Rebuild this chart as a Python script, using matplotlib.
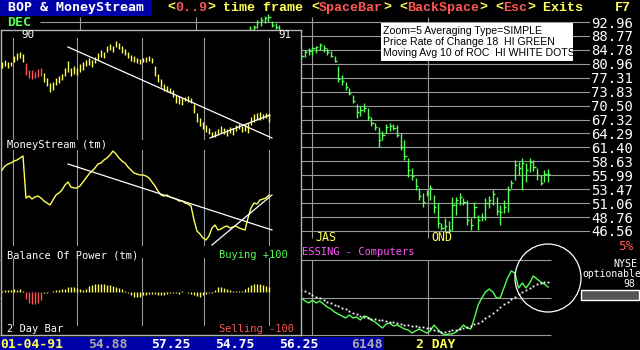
import matplotlib
matplotlib.use('Agg')
import matplotlib.pyplot as plt
import numpy as np
from matplotlib.patches import Rectangle, Ellipse
from matplotlib.ticker import NullLocator

plt.rcParams['font.family'] = ['DejaVu Sans Mono']

# ---- main chart: 2 day bars, May 1990 .. 01-04-91 ----
price_levels = [92.96, 88.77, 84.78, 80.96, 77.31, 73.83, 70.50, 67.32,
                64.29, 61.40, 58.63, 55.99, 53.47, 51.06, 48.76, 46.56]
quarter_bars = [-46.2, -14.6, 16.9, 48.4]     # bar index where a quarter starts
quarter_names = ['', '', 'JAS', 'OND']

bar_hi = [91.7, 92.0, 93.6, 94.5, 94.8, 95.5, 93.3, 92.6, 92.0, 89.9,
          89.0, 88.2, 87.6, 86.2, 84.2, 84.8, 85.3, 85.6, 85.9, 86.7,
          86.2, 85.3, 84.5, 83.1, 80.4, 78.0, 76.2, 74.7, 73.0, 70.9,
          70.4, 71.1, 69.9, 67.9, 66.6, 65.7, 64.8, 66.3, 66.6, 66.3,
          66.1, 64.4, 62.9, 59.3, 57.3, 55.5, 53.7, 52.8, 53.3, 54.2,
          52.5, 51.1, 47.8, 48.6, 48.1, 52.1, 52.1, 52.8, 52.0, 51.6,
          48.6, 51.3, 49.1, 49.4, 52.0, 52.3, 53.3, 52.1, 50.7, 51.6,
          54.0, 55.1, 58.9, 58.5, 59.3, 58.3, 59.3, 58.9, 57.3, 56.0,
          57.0, 57.25]
bar_lo = [90.2, 90.5, 91.1, 91.7, 92.6, 93.0, 91.4, 90.8, 90.2, 87.6,
          86.7, 85.9, 84.8, 83.4, 82.3, 82.8, 83.4, 83.4, 83.9, 84.8,
          84.2, 83.4, 82.8, 81.5, 76.2, 75.5, 74.3, 73.0, 71.1, 67.7,
          68.1, 69.0, 67.2, 65.9, 65.0, 61.5, 62.9, 64.4, 64.8, 65.0,
          63.5, 60.9, 58.9, 55.7, 55.1, 53.3, 51.6, 50.4, 52.3, 51.6,
          49.4, 47.0, 46.7, 46.4, 46.25, 46.7, 49.1, 50.7, 50.7, 47.5,
          46.7, 48.6, 46.7, 48.1, 48.3, 50.2, 50.7, 49.1, 47.5, 49.4,
          49.6, 53.7, 55.1, 56.0, 53.3, 54.75, 56.6, 56.8, 55.1, 54.2,
          54.75, 54.75]
bar_cl = [90.5, 91.4, 93.0, 93.6, 94.2, 94.5, 92.0, 91.4, 90.5, 88.2,
          87.6, 86.7, 85.3, 84.2, 83.1, 84.2, 84.5, 85.3, 85.6, 86.2,
          85.3, 84.2, 83.1, 81.8, 77.0, 76.6, 75.0, 73.6, 71.6, 69.0,
          69.5, 70.0, 67.9, 66.6, 65.6, 63.0, 64.0, 65.7, 66.0, 65.5,
          64.0, 61.5, 59.6, 57.0, 55.8, 54.0, 52.3, 51.3, 52.8, 53.7,
          50.4, 47.8, 47.0, 47.3, 46.7, 50.7, 51.6, 52.1, 51.2, 48.3,
          47.5, 50.4, 48.3, 48.8, 51.0, 51.6, 52.6, 49.8, 49.6, 50.4,
          53.3, 54.6, 57.9, 57.3, 58.3, 57.0, 58.5, 57.6, 56.0, 54.6,
          56.2, 56.25]

# price rate of change 18 and its 10 bar average (start at bar 14)
roc_start = 14
roc = [0, -3, -5, -2, -5, -3, -6, -9, -11, -14, -16, -18, -20, -17, -20, -19,
       -22, -18, -19, -22, -24, -27, -30, -26, -25, -28, -27, -29, -31, -32,
       -35, -33, -31, -33, -35, -33, -27, -31, -35, -37, -36, -36, -34, -31,
       -27, -30, -31, -20, -7, 0, 6, 9, 6, 0, 0, 10, 20, 27, 25, 10, 15, 10,
       15, 22, 19, 16, 14, 11]
roc_ma = [8, 7, 5, 3, 1, 0, -2, -4, -5, -7, -8, -10, -11, -13, -15, -16, -18,
          -19, -20, -21, -21, -22, -22, -23, -24, -24, -25, -26, -27, -27, -28,
          -28, -29, -29, -30, -30, -32, -33, -34, -34, -33, -32, -32, -31, -30,
          -29, -28, -26, -25, -23, -20, -18, -15, -12, -9, -6, -4, -1, 1, 4, 6,
          8, 10, 12, 14, 15, 16, 16]

# ---- inset: 1990 price, MoneyStream, Balance of Power ----
ins_hi = [88, 90, 88, 88, 94, 97, 98, 96, 87, 80, 80, 78, 81, 82, 77, 72, 67, 68,
          72, 74, 76, 82, 89, 82, 84, 82, 86, 88, 90, 92, 90, 93, 97, 100, 98,
          104, 106, 104, 109, 107, 104, 101, 98, 95, 94, 92, 91, 92, 93, 94, 92,
          84, 76, 71, 66, 64, 62, 60, 55, 54, 52, 53, 54, 52, 46, 37, 32, 28,
          25, 22, 18, 19, 21, 24, 22, 21, 23, 22, 25, 26, 24, 26, 27, 33, 36,
          37, 38, 36, 37, 36]
ins_lo = [82, 84, 82, 84, 88, 90, 92, 88, 75, 72, 71, 72, 73, 74, 68, 64, 58, 60,
          65, 67, 70, 74, 78, 74, 76, 75, 78, 80, 84, 85, 83, 87, 90, 93, 92,
          98, 100, 98, 103, 101, 97, 95, 92, 89, 88, 87, 86, 88, 88, 89, 87,
          74, 68, 63, 59, 58, 57, 53, 47, 46, 45, 49, 48, 47, 37, 28, 24, 21,
          18, 16, 13, 13, 15, 17, 16, 14, 17, 15, 19, 21, 18, 19, 17, 25, 28,
          30, 30, 31, 32, 28]
money_stream = [80, 84, 86, 87, 89, 90, 92, 94, 52, 54, 51, 53, 54, 52, 49, 47,
                45, 50, 55, 57, 60, 65, 68, 63, 62, 62, 64, 68, 72, 76, 79, 82,
                86, 87, 90, 92, 95, 99, 96, 92, 89, 87, 83, 80, 77, 76, 75, 75,
                74, 72, 68, 64, 59, 55, 54, 55, 53, 52, 51, 49, 49, 47, 46, 44,
                30, 19, 16, 12, 10, 14, 22, 25, 20, 21, 23, 24, 22, 23, 24, 22,
                21, 20, 32, 42, 47, 46, 50, 51, 52, 55]
bop = [4, 5, 6, 5, 8, 6, 8, 4, -20, -32, -35, -35, -32, -24, -3, -2, 1, 3, 5,
       6, 8, 10, 14, 16, 14, 12, 8, 7, 10, 18, 22, 24, 24, 25, 24, 22, 20, 18,
       16, 12, 8, 4, -2, -8, -14, -16, -14, -10, -8, -6, -7, -5, -8, -10, -8,
       -6, -4, -2, -3, -5, 2, -1, -3, -6, -10, -12, -14, -10, -6, -3, -2, 6,
       14, 16, 12, 8, 6, 4, 3, 2, 3, 8, 14, 20, 24, 25, 24, 22, 18, 16]
ins_marks = [3.7, 25, 46.7, 67.3, 89]
price_trend = [([22, 90], [103, 12]), ([69.3, 89.3], [12, 35])]
ms_trend = [([22, 90], [86, 20]), ([70, 90], [5, 55])]

W, H = 640, 350
YEL, RED, GRN, MAG = '#ffff55', '#ff5555', '#55ff55', '#ff55ff'
GRID = '#9a9a9a'


def box(x0, y0, x1, y1):
    return [x0 / W, 1 - y1 / H, (x1 - x0) / W, (y1 - y0) / H]


def txt(x, y, s, c, size, ha='left', fam='DejaVu Sans Mono', wt='normal'):
    fig.text(x / W, 1 - y / H, s, color=c, fontsize=size, ha=ha, va='center',
             family=fam, weight=wt, zorder=10)


def bare(a):
    a.set_facecolor('none')
    a.set_xticks([])
    a.set_yticks([])
    for sp in a.spines.values():
        sp.set_visible(False)


fig = plt.figure(figsize=(6.4, 3.5), dpi=100, facecolor='black')

# main price panel
ax = fig.add_axes(box(0, 10, 590, 245))
ax.set_yscale('log')
bare(ax)
ax.set_xlim(-67.9, 92.4)
ax.set_ylim(44.45, 96.73)
ax.hlines(price_levels, -57.0, 92.4, colors=GRID, lw=0.8)
ax.vlines(quarter_bars, 45.5, 94.5, colors=GRID, lw=0.8)
bx = np.arange(len(bar_hi))
ax.vlines(bx, bar_lo, bar_hi, colors=GRN, lw=1.0)
ax.hlines(bar_cl, bx, bx + 0.6, colors=GRN, lw=1.0)
for q, name in zip(quarter_bars, quarter_names):
    ax.text(q + 1.0, 0.03, name, transform=ax.get_xaxis_transform(),
            color=YEL, fontsize=8.4, va='center')
ax.yaxis.tick_right()
ax.set_yticks(price_levels, labels=[f'{v:.2f}' for v in price_levels])
ax.yaxis.set_minor_locator(NullLocator())
ax.tick_params(axis='y', length=0, pad=1, labelsize=10, labelcolor='white')

# rate of change panel
rx = fig.add_axes(box(0, 255, 590, 340))
bare(rx)
rx.set_xlim(-67.9, 92.4)
rx.set_ylim(-42, 43)
rx.hlines([38, 0, -37], -67.9, 81.8, colors=GRID, lw=0.8)
rx.vlines(quarter_bars, -37, 38, colors=GRID, lw=0.8)
ri = np.arange(roc_start, roc_start + len(roc))
rx.plot(ri, roc, color=GRN, lw=1.0)
rx.plot(ri, roc_ma, ls='none', marker='s', ms=1.3, mew=0, color='white')

# inset background
ib = fig.add_axes(box(1, 30, 301, 335))
ib.set_xticks([])
ib.set_yticks([])
ib.set_facecolor('black')
for sp in ib.spines.values():
    sp.set_color('#b4b4b4')
    sp.set_linewidth(1.0)
ib.set_zorder(5)

ix = np.arange(len(ins_hi))
bar_cols = [RED if b < -18 else YEL for b in bop]

ip = fig.add_axes(box(1, 38, 301, 140))
bare(ip)
ip.set_zorder(6)
ip.set_xlim(-0.33, 99.67)
ip.set_ylim(10, 112)
for m in ins_marks:
    ip.axvline(m, color=GRID, lw=0.8)
ip.vlines(ix, ins_lo, ins_hi, colors=bar_cols, lw=1.0)
for xs, ys in price_trend:
    ip.plot(xs, ys, color='white', lw=0.9)

im = fig.add_axes(box(1, 150, 301, 246))
bare(im)
im.set_zorder(6)
im.set_xlim(-0.33, 99.67)
im.set_ylim(4, 100)
for m in ins_marks:
    im.axvline(m, color=GRID, lw=0.8)
im.plot(ix, money_stream, color=YEL, lw=1.0)
for xs, ys in ms_trend:
    im.plot(xs, ys, color='white', lw=0.9)

bp = fig.add_axes(box(1, 258, 301, 326))
bare(bp)
bp.set_zorder(6)
bp.set_xlim(-0.33, 99.67)
bp.set_ylim(-100, 100)
for m in ins_marks:
    bp.axvline(m, color=GRID, lw=0.8)
bp.vlines(ix, 0, bop, colors=bar_cols, lw=1.0)

# header and status bar
fig.add_artist(Rectangle((0, 1 - 16 / H), 152 / W, 16 / H, transform=fig.transFigure,
                         facecolor='#0000aa', edgecolor='none', zorder=2))
txt(8, 8, 'BOP & MoneyStream', 'white', 9.57, wt='bold')
segs = [('<', YEL), ('0..9', RED), ('>', YEL), (' time frame ', YEL),
        ('<', YEL), ('SpaceBar', RED), ('>', YEL), (' ', YEL),
        ('<', YEL), ('BackSpace', RED), ('>', YEL), (' ', YEL),
        ('<', YEL), ('Esc', RED), ('>', YEL), (' Exits', YEL)]
k = 0
for s, c in segs:
    txt(167 + 8.0 * k, 8, s, c, 9.6, fam='Liberation Mono', wt='bold')
    k += len(s)
txt(615, 8, 'F7', YEL, 9.6, fam='Liberation Mono', wt='bold')
txt(7, 22, 'DEC', GRN, 9.6, wt='bold')

fig.add_artist(Rectangle((0, 0), 384 / W, 13 / H, transform=fig.transFigure,
                         facecolor='#0000aa', edgecolor='none', zorder=2))
status = [(0, '01-04-91', YEL), (88, '54.88', '#a8a8a8'), (151, '57.25', 'white'),
          (215, '54.75', 'white'), (279, '56.25', 'white'), (351, '6148', '#a8a8a8'),
          (416, '2 DAY', YEL)]
for x, s, c in status:
    txt(x, 344, s, c, 9.4, wt='bold')

# info box
fig.add_artist(Rectangle((381 / W, 1 - 61 / H), 192 / W, 38 / H, transform=fig.transFigure,
                         facecolor='white', edgecolor='none', zorder=3))
info = ['Zoom=5 Averaging Type=SIMPLE', 'Price Rate of Change 18  HI GREEN',
        'Moving Avg 10 of ROC  HI WHITE DOTS']
for n, line in enumerate(info):
    txt(383, 30.5 + 11.3 * n, line, 'black', 7.6, fam='Liberation Sans')

# inset labels
txt(21, 35, '90', 'white', 7.8)
txt(278, 35, '91', 'white', 7.8)
txt(7, 145, 'MoneyStream (tm)', 'white', 7.5)
txt(7, 255, 'Balance Of Power (tm)', 'white', 7.5)
txt(219, 255, 'Buying +100', GRN, 7.5)
txt(7, 329, '2 Day Bar', 'white', 7.5)
txt(219, 329, 'Selling -100', RED, 7.5)

# right side labels
txt(302, 252, 'ESSING - Computers', MAG, 7.5)
txt(633, 246, '5%', RED, 9.2, ha='right')
txt(637, 264, 'NYSE', 'white', 7.2, ha='right')
txt(641, 274, 'optionable', 'white', 7.0, ha='right')
txt(635, 284, '98', 'white', 7.0, ha='right')
fig.add_artist(Rectangle((581 / W, 1 - 300 / H), 58 / W, 10 / H, transform=fig.transFigure,
                         facecolor='#555555', edgecolor='white', lw=1.0, zorder=3))
fig.add_artist(Ellipse((548 / W, 1 - 278 / H), 66 / W, 68 / H, transform=fig.transFigure,
                       fill=False, edgecolor='white', lw=0.9, zorder=9))

fig.savefig('out.png', dpi=100, facecolor='black')
